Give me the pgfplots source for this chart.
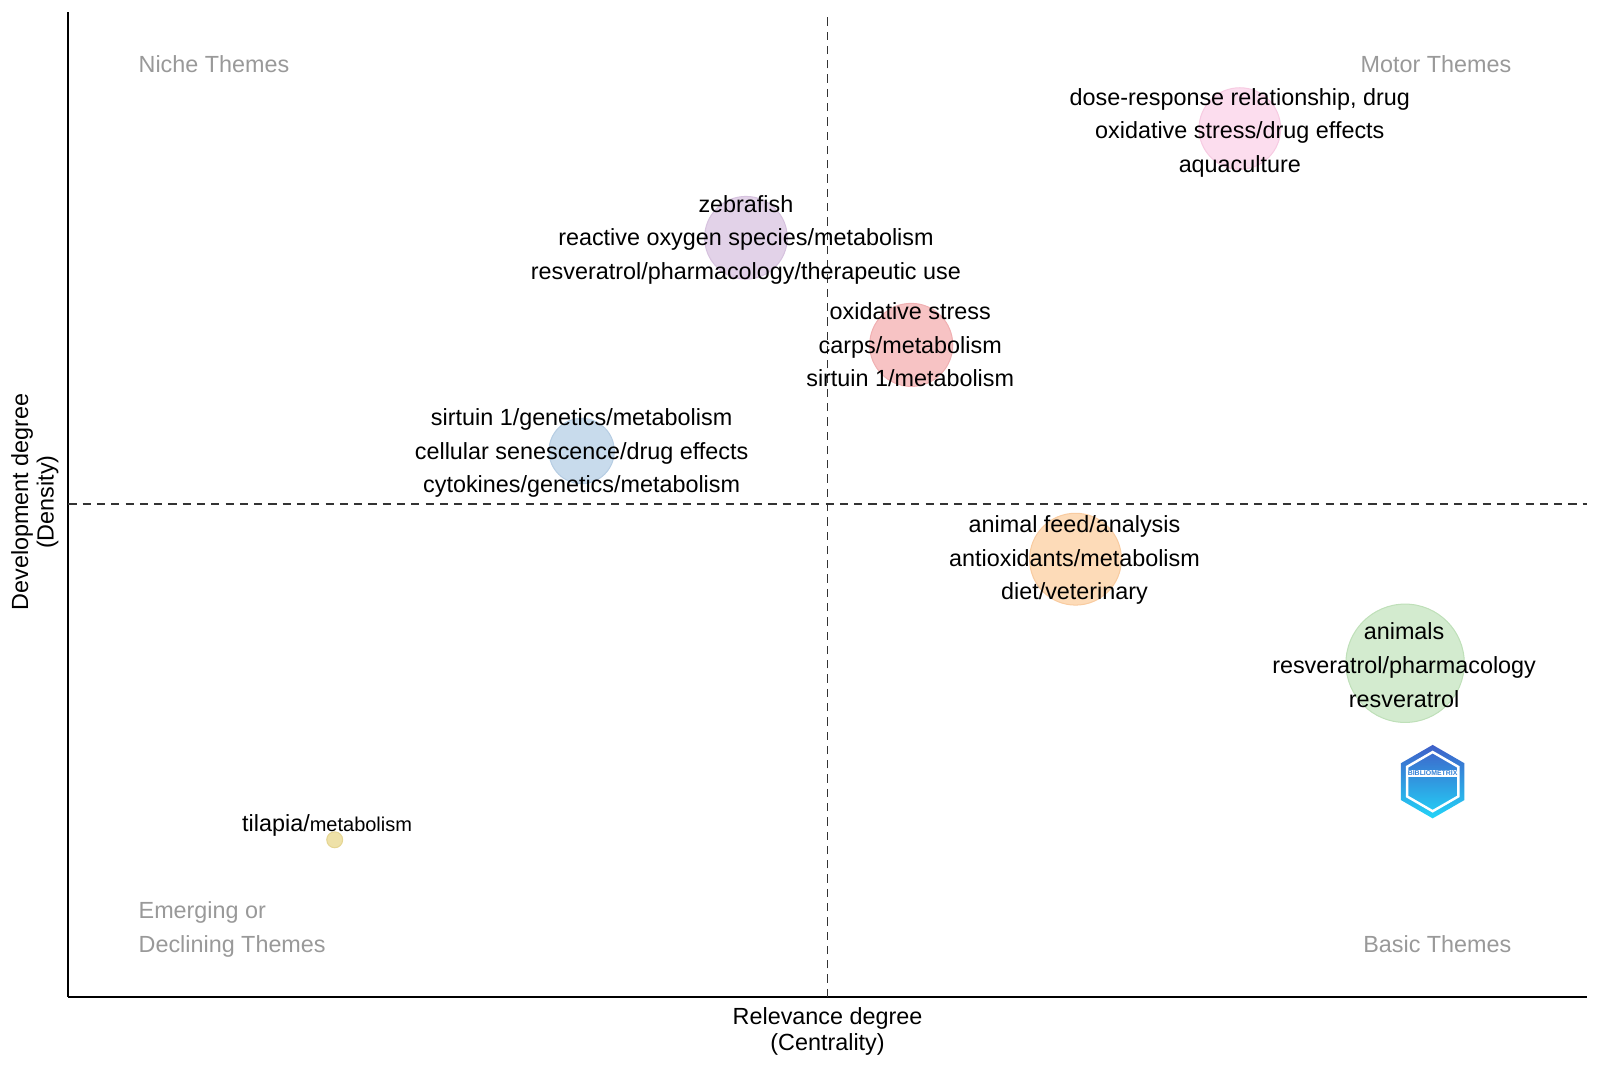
\documentclass[border=0pt]{standalone}
\usepackage{fontspec}
\setmainfont{Liberation Sans}
\usepackage{pgfplots}
\pgfplotsset{compat=1.18}
\usetikzlibrary{shapes.geometric}
\definecolor{cpink}{HTML}{FCDDEE}\definecolor{cpinkd}{HTML}{F7CBE2}
\definecolor{cpurple}{HTML}{E2D2E8}\definecolor{cpurpled}{HTML}{D6C2DE}
\definecolor{cred}{HTML}{F7C3C4}\definecolor{credd}{HTML}{F0B0B2}
\definecolor{cblue}{HTML}{C8DBEC}\definecolor{cblued}{HTML}{B6CDE3}
\definecolor{corange}{HTML}{FDDBB8}\definecolor{coranged}{HTML}{F8CBA0}
\definecolor{cgreen}{HTML}{D3EBCF}\definecolor{cgreend}{HTML}{BFE0B9}
\definecolor{cyellow}{HTML}{EEE1A8}\definecolor{cyellowd}{HTML}{E5D592}
\definecolor{qgray}{HTML}{999999}
\definecolor{logotop}{HTML}{3F5FC8}\definecolor{logobot}{HTML}{22D4F8}
\newcommand\lf{\fontsize{11.45}{12.5}\selectfont}
% x, y-center (image px from top), three lines
\newcommand\lab[5]{%
  \node[anchor=base,inner sep=0pt,font=\lf] at (axis cs:#1,{1045-(#2)-10+33}) {#3};
  \node[anchor=base,inner sep=0pt,font=\lf] at (axis cs:#1,{1045-(#2)-10}) {#4};
  \node[anchor=base,inner sep=0pt,font=\lf] at (axis cs:#1,{1045-(#2)-10-33}) {#5};}
\newcommand\bub[4]{% x, y(from top), radius px, color
  \addplot[only marks, mark=*, mark size={#3*0.5pt}, mark options={fill=#4, draw=#4d, line width=0.5pt}] coordinates {(#1,{1045-#2})};}
\begin{document}
\begin{tikzpicture}
\begin{axis}[
  set layers=standard,
  x=0.5pt, y=0.5pt,
  xmin=67, xmax=1555, ymin=68, ymax=1033,
  enlargelimits=false,
  axis x line=bottom, axis y line=left,
  axis line style={-, line width=1pt, black},
  xtick=\empty, ytick=\empty,
  clip=false,
  xlabel={Relevance degree\\(Centrality)},
  xlabel style={font=\lf, align=center, inner sep=0pt, at={(axis cs:811,16)}, anchor=base},
  ylabel={Development degree\\(Density)},
  ylabel style={font=\lf, align=center, inner sep=0pt, at={(axis cs:52.5,553)}, anchor=base},
]
% quadrant dividers
\addplot[black!80, line width=0.6pt, dash pattern=on 4pt off 3pt] coordinates {(811,68) (811,1033)};
\addplot[black!80, line width=0.6pt, dash pattern=on 4pt off 3pt] coordinates {(67,551) (1555,551)};
% bubbles
\bub{1215}{126}{40}{cpink}
\bub{731}{233}{40.5}{cpurple}
\bub{893}{338}{40.7}{cred}
\bub{570}{442}{32}{cblue}
\bub{1054}{548}{45}{corange}
\bub{1377}{650}{58}{cgreen}
\bub{328}{823}{7.8}{cyellow}
\begin{pgfonlayer}{axis foreground}
% labels
\lab{1215}{126}{dose-response relationship, drug}{oxidative stress/drug effects}{aquaculture}
\lab{731}{231}{zebrafish}{reactive oxygen species/metabolism}{resveratrol/pharmacology/therapeutic use}
\lab{892}{336}{oxidative stress}{carps/metabolism}{sirtuin 1/metabolism}
\lab{570}{440}{sirtuin 1/genetics/metabolism}{cellular senescence/drug effects}{cytokines/genetics/metabolism}
\lab{1053}{545}{animal feed/analysis}{antioxidants/metabolism}{diet/veterinary}
\lab{1376}{650}{animals}{resveratrol/pharmacology}{resveratrol}
\node[anchor=base west, inner sep=0pt] at (axis cs:237,230) {\lf tilapia/\fontsize{9.8}{11}\selectfont metabolism};
% quadrant names
\node[anchor=base west, inner sep=0pt, font=\lf, text=qgray] at (axis cs:135.5,974) {Niche Themes};
\node[anchor=base east, inner sep=0pt, font=\lf, text=qgray] at (axis cs:1481.5,974) {Motor Themes};
\node[anchor=base west, inner sep=0pt, font=\lf, text=qgray] at (axis cs:135.5,145) {Emerging or};
\node[anchor=base west, inner sep=0pt, font=\lf, text=qgray] at (axis cs:135.5,112) {Declining Themes};
\node[anchor=base east, inner sep=0pt, font=\lf, text=qgray] at (axis cs:1481.5,112) {Basic Themes};
% logo
\node[regular polygon, regular polygon sides=6, shape border rotate=90, minimum size=36pt, inner sep=0pt,
      top color=logotop, bottom color=logobot, draw=none] at (axis cs:1404,279) {};
\node[regular polygon, regular polygon sides=6, shape border rotate=90, minimum size=29pt, inner sep=0pt,
      draw=white, line width=1.2pt] at (axis cs:1404,279) {};
\node[inner sep=0.5pt, fill=white, text=logotop!70!logobot, font=\fontsize{3.4}{3.6}\selectfont\bfseries] at (axis cs:1404,287) {BIBLIOMETRIX};
\end{pgfonlayer}
\coordinate (bbll) at (axis cs:0,0);
\coordinate (bbur) at (axis cs:1568,1045);
\end{axis}
\pgfresetboundingbox
\path[use as bounding box] (bbll) rectangle (bbur);
\end{tikzpicture}
\end{document}
